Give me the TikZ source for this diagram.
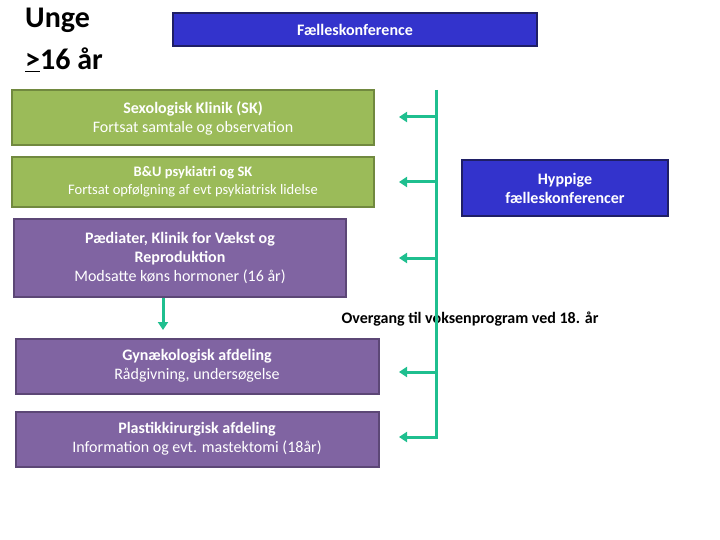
\documentclass[tikz,border=0pt]{standalone}
\usepackage{fontspec}
\setmainfont{Carlito}
\usetikzlibrary{arrows.meta, positioning}
\definecolor{sage}{HTML}{9BBB59}
\definecolor{sageline}{HTML}{71893F}
\definecolor{lilac}{HTML}{8064A2}
\definecolor{lilacline}{HTML}{5C4776}
\definecolor{royal}{HTML}{3333CC}
\definecolor{navyline}{HTML}{1F1F66}
\definecolor{tealline}{HTML}{1FBF8F}
\begin{document}
\begin{tikzpicture}[x=1pt, y=-1pt,
    greenbox/.style={draw=sageline, fill=sage, line width=2pt, text=white, align=center, font=\fontsize{16}{19}\selectfont},
    purplebox/.style={draw=lilacline, fill=lilac, line width=2pt, text=white, align=center, font=\fontsize{16}{19}\selectfont},
    bluebox/.style={draw=navyline, fill=royal, line width=2pt, text=white, align=center, font=\bfseries\fontsize{16}{19}\selectfont},
    feed/.style={tealline, line width=3pt, -{Triangle[length=8pt, width=10pt]}}]
    \useasboundingbox (0,0) rectangle (720,540);
    % Heading
    \node[anchor=north west, font=\bfseries\fontsize{30}{42}\selectfont, align=left, inner sep=0pt] (title) at (25,8) {Unge\\\underline{>}16 år};
    \node[bluebox, minimum width=364pt, minimum height=33pt] (joint) at (355,30) {Fælleskonference};
    \node[bluebox, minimum width=206pt, minimum height=56pt] (often) at (565,188) {Hyppige\\fælleskonferencer};

    % Boxes
    \node[greenbox, minimum width=362pt, minimum height=55pt] (sex) at (193,118) {\textbf{Sexologisk Klinik (SK)}\\Fortsat samtale og observation};
    \node[greenbox, minimum width=362pt, minimum height=50pt, font=\fontsize{14.5}{18}\selectfont] (psych) at (193,182) {\textbf{B\&U psykiatri og SK}\\Fortsat opfølgning af evt psykiatrisk lidelse};
    \node[purplebox, minimum width=332pt, minimum height=78pt] (paed) at (180,258) {\textbf{Pædiater, Klinik for Vækst og}\\\textbf{Reproduktion}\\Modsatte køns hormoner (16 år)};
    \node[purplebox, minimum width=363pt, minimum height=55pt] (gyn) at (197,366) {\textbf{Gynækologisk afdeling}\\Rådgivning, undersøgelse};
    \node[purplebox, minimum width=363pt, minimum height=55pt] (plast) at (197,439) {\textbf{Plastikkirurgisk afdeling}\\Information og evt. mastektomi (18år)};

    \node[font=\bfseries\fontsize{16}{19}\selectfont, anchor=west] (shift) at (338,319) {Overgang til voksenprogram ved 18. år};

    % Timeline
    \coordinate (top) at (436,90);
    \coordinate (bot) at (436,439);
    \coordinate (drop) at (163,0);
    \draw[tealline, line width=3pt] (top) -- (bot);
    \foreach \y in {117,182,258,372,437}
        \draw[feed] (436,\y) -- (399,\y);
    \draw[feed] (paed.south -| drop) -- ++(0,32);
\end{tikzpicture}
\end{document}
